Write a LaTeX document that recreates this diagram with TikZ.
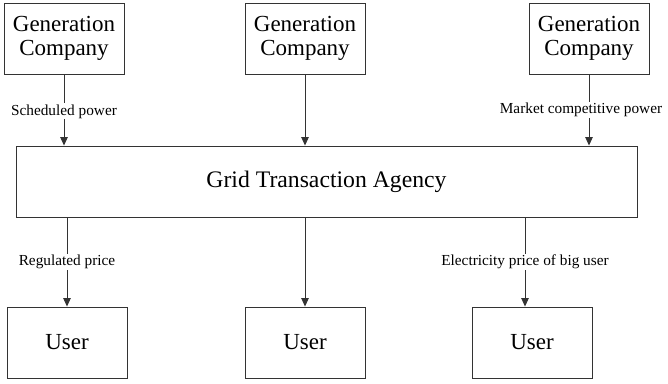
\documentclass[tikz,border=0pt]{standalone}
\usepackage{fontspec}
\setmainfont{Liberation Serif}
\usetikzlibrary{arrows.meta}

\begin{document}
\begin{tikzpicture}[x=1pt,y=-1pt,
    box/.style={draw=black!80,line width=0.9pt,minimum width=120pt,minimum height=71pt,
                inner sep=0pt,align=center,font=\fontsize{23}{24}\selectfont},
    flow/.style={draw=black!80,line width=0.9pt,-{Triangle[width=7.5pt,length=8.5pt]}},
    tag/.style={fill=white,inner sep=1pt,font=\fontsize{15.3}{17}\selectfont}]
     \useasboundingbox (0,0) rectangle (668,383);
     % generation side
     \node[box] (gen1) at ( 64,38.5) {Generation\\Company};
     \node[box] (gen2) at (305,38.5) {Generation\\Company};
     \node[box] (gen3) at (589,38.5) {Generation\\Company};
     % agency
     \node[box,minimum width=621pt,font=\fontsize{23.7}{25}\selectfont]
       (grid) at (326.5,181.5) {Grid Transaction Agency};
     % users
     \node[box] (user1) at ( 67,342.5) {User};
     \node[box] (user2) at (305,342.5) {User};
     \node[box] (user3) at (532,342.5) {User};
     \coordinate (c3) at (525,0);
     % flows
     \draw[flow] (gen1.south) -- (gen1.south |- grid.north)
       node[tag,pos=0.52] {Scheduled power};
     \draw[flow] (gen2.south) -- (gen2.south |- grid.north);
     \draw[flow] (gen3.south) -- (gen3.south |- grid.north)
       node[tag,pos=0.5,xshift=-8pt] {Market competitive power};
     \draw[flow] (grid.south -| user1.north) -- (user1.north)
       node[tag,pos=0.5] {Regulated price};
     \draw[flow] (grid.south -| user2.north) -- (user2.north);
     \draw[flow] (grid.south -| c3) -- (user3.north -| c3)
       node[tag,pos=0.5] {Electricity price of big user};
\end{tikzpicture}
\end{document}
